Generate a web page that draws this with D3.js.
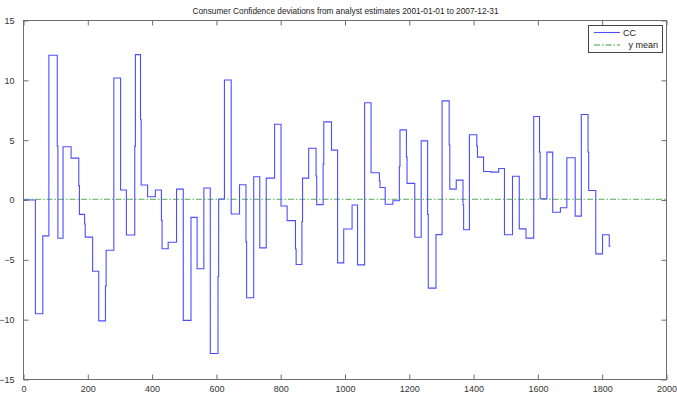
<!DOCTYPE html>
<html>
<head>
<meta charset="utf-8">
<script src="https://cdn.jsdelivr.net/npm/d3@7/dist/d3.min.js"></script>
<style>
  body { margin: 0; background: #fff; }
  svg { display: block; font-family: "Liberation Sans", Arial, sans-serif; }
</style>
</head>
<body>
<svg id="chart" width="677" height="394"></svg>
<script>
// Day index (since 2001-01-01) at which each new deviation value takes effect
const stepDays = [
  0, 37, 60, 79, 105, 107, 123, 148, 172, 174, 190, 192, 215, 234, 255, 257,
  281, 302, 320, 346, 348, 364, 366, 386, 410, 429, 431, 450, 476, 497, 521, 540,
  561, 581, 605, 607, 625, 646, 672, 692, 694, 716, 735, 755, 781, 801, 820, 846,
  848, 866, 868, 887, 910, 912, 932, 934, 958, 977, 996, 1022, 1039, 1061, 1081, 1107,
  1109, 1125, 1149, 1169, 1171, 1191, 1193, 1217, 1237, 1257, 1259, 1283, 1302, 1324, 1326, 1346,
  1367, 1369, 1387, 1410, 1412, 1431, 1454, 1478, 1496, 1521, 1542, 1563, 1587, 1605, 1607, 1628,
  1646, 1670, 1690, 1716, 1735, 1756, 1758, 1780, 1801, 1822
];
// Consumer Confidence deviation from the analyst estimate for each step
const stepValues = [
  0, -9.5, -3.0, 12.1, 4.5, -3.2, 4.45, 3.5, 1.2, -1.2, -2.0, -3.1, -5.95, -10.1, -7.2, -4.2,
  10.2, 0.83, -2.92, 4.5, 12.15, 6.7, 1.25, 0.27, 0.83, -1.7, -4.08, -3.53, 0.91, -10.06, -1.45, -5.75,
  1.0, -12.83, -6.4, 0.08, 10.03, -1.17, 1.28, -3.5, -8.17, 1.94, -4.0, 1.83, 6.33, -0.5, -1.72, -4.1,
  -5.39, -1.8, 1.83, 4.33, 2.0, -0.39, 3.0, 6.53, 4.17, -5.25, -2.42, -0.42, -5.42, 8.13, 2.28, 1.6,
  1.05, -0.36, -0.06, 2.8, 5.86, 3.6, 1.39, -3.11, 4.94, -1.2, -7.36, -2.89, 8.28, 4.6, 0.91, 1.66,
  -0.4, -2.48, 5.45, 4.5, 3.58, 2.38, 2.33, 2.63, -2.91, 1.99, -2.41, -3.19, 6.98, 4.0, 0.1, 4.0,
  -1.02, -0.65, 3.53, -1.35, 7.15, 4.0, 0.79, -4.5, -2.91, -3.86
];
const lastDay = 1826;
const yMean = 0.05;

const xTicks = [0, 200, 400, 600, 800, 1000, 1200, 1400, 1600, 1800, 2000];
const yTicks = [-15, -10, -5, 0, 5, 10, 15];
const seriesNames = ["CC", "y mean"];
const titleText = "Consumer Confidence deviations from analyst estimates 2001-01-01 to 2007-12-31";

const svg = d3.select("#chart");
const plotL = 23.5, plotR = 666.5, plotT = 20.5, plotB = 379.5;

const x = d3.scaleLinear().domain([0, 2000]).range([plotL, plotR]);
const y = d3.scaleLinear().domain([-15, 15]).range([plotB, plotT]);

const lineBlue = "#4d4dff";
const meanGreen = "#78c078";

svg.append("rect").attr("width", 677).attr("height", 394).attr("fill", "#fff");

// Title
svg.append("text")
  .attr("x", (plotL + plotR) / 2 + 0.5)
  .attr("y", 14)
  .attr("text-anchor", "middle")
  .attr("font-size", 9)
  .attr("fill", "#222")
  .attr("textLength", 306)
  .attr("lengthAdjust", "spacingAndGlyphs")
  .text(titleText);

// Series as a staircase
const pts = stepDays.map((d, i) => ({ d, v: stepValues[i] }));
pts.push({ d: lastDay, v: stepValues[stepValues.length - 1] });

const line = d3.line()
  .x(p => x(p.d))
  .y(p => y(p.v))
  .curve(d3.curveStepAfter);

// Mean line
svg.append("line")
  .attr("x1", plotL).attr("x2", plotR)
  .attr("y1", y(yMean)).attr("y2", y(yMean))
  .attr("stroke", meanGreen)
  .attr("stroke-width", 1.3)
  .attr("stroke-dasharray", "6,2,1.5,2");

svg.append("path")
  .datum(pts)
  .attr("d", line)
  .attr("fill", "none")
  .attr("stroke", lineBlue)
  .attr("stroke-width", 1.1);

// Axes: labelled bottom/left, mirrored inward ticks on top/right
const axisColor = "#6e6e6e";
const gx = svg.append("g").attr("transform", `translate(0,${plotB})`)
  .call(d3.axisBottom(x).tickValues(xTicks).tickFormat(d3.format("d"))
    .tickSizeInner(-5).tickSizeOuter(0).tickPadding(8));
const gy = svg.append("g").attr("transform", `translate(${plotL},0)`)
  .call(d3.axisLeft(y).tickValues(yTicks).tickFormat(d3.format("d"))
    .tickSizeInner(-5).tickSizeOuter(0).tickPadding(9));
const gxt = svg.append("g").attr("transform", `translate(0,${plotT})`)
  .call(d3.axisTop(x).tickValues(xTicks).tickSizeInner(-5).tickSizeOuter(0).tickFormat(""));
const gyr = svg.append("g").attr("transform", `translate(${plotR},0)`)
  .call(d3.axisRight(y).tickValues(yTicks).tickSizeInner(-5).tickSizeOuter(0).tickFormat(""));

[gx, gy, gxt, gyr].forEach(g => {
  g.select(".domain").remove();
  g.selectAll(".tick line").attr("stroke", axisColor);
  g.selectAll(".tick text").attr("fill", "#333").attr("font-size", 9)
    .attr("font-family", "'Liberation Sans', Arial, sans-serif");
});
gx.selectAll(".tick text").attr("dy", "0.55em");

svg.append("rect")
  .attr("x", plotL).attr("y", plotT)
  .attr("width", plotR - plotL).attr("height", plotB - plotT)
  .attr("fill", "none").attr("stroke", axisColor).attr("stroke-width", 1);

// Legend
const lg = svg.append("g");
lg.append("rect")
  .attr("x", 588.5).attr("y", 25.5).attr("width", 74).attr("height", 27)
  .attr("fill", "#fff").attr("stroke", "#444").attr("stroke-width", 1);
lg.append("line").attr("x1", 594).attr("x2", 620).attr("y1", 32.5).attr("y2", 32.5)
  .attr("stroke", lineBlue).attr("stroke-width", 1.1);
lg.append("text").attr("x", 623).attr("y", 35.5).attr("font-size", 9).attr("fill", "#222")
  .text(seriesNames[0]);
lg.append("line").attr("x1", 594).attr("x2", 620).attr("y1", 45).attr("y2", 45)
  .attr("stroke", meanGreen).attr("stroke-width", 1.3).attr("stroke-dasharray", "6,2,1.5,2");
lg.append("text").attr("x", 658).attr("y", 48).attr("text-anchor", "end")
  .attr("font-size", 9).attr("fill", "#222").text(seriesNames[1]);
</script>
</body>
</html>
